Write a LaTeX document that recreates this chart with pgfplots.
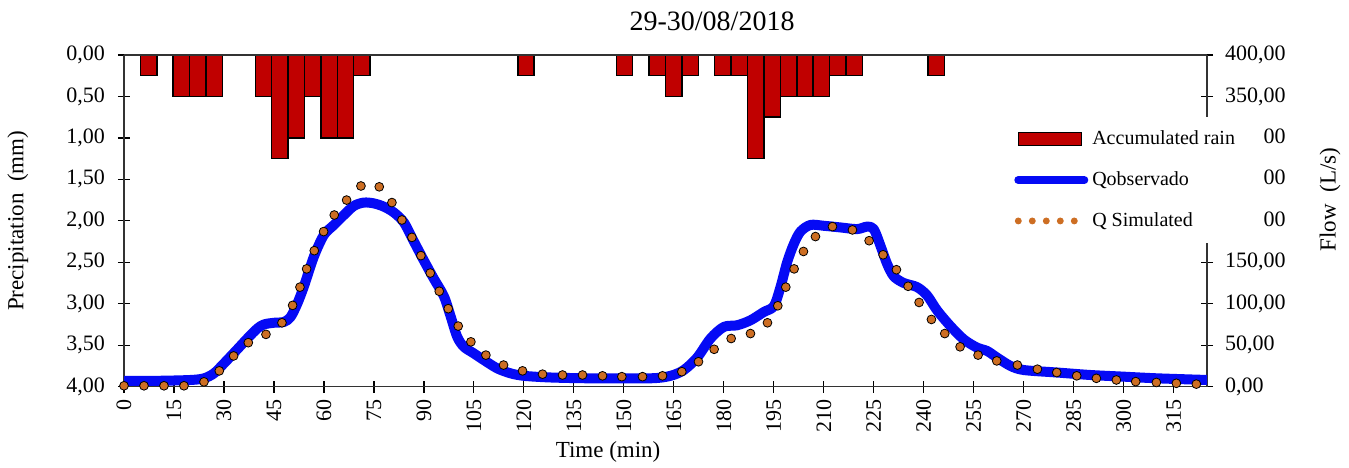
\documentclass[border=0pt]{standalone}
\usepackage{pgfplots}
\pgfplotsset{compat=1.18}
\usepackage{fontspec}
\setmainfont{Liberation Serif}

\definecolor{rainred}{RGB}{192,0,0}
\definecolor{qobs}{RGB}{5,10,245}
\definecolor{qsim}{RGB}{205,110,35}

% rain per 5-min interval (centre of interval, mm)
\pgfplotstableread{
t   p
7.5   0.25
17.5  0.5
22.5  0.5
27.5  0.5
42.5  0.5
47.5  1.25
52.5  1.0
57.5  0.5
62.5  1.0
67.5  1.0
72.5  0.25
122.5 0.25
152.5 0.25
162.5 0.25
167.5 0.5
172.5 0.25
182.5 0.25
187.5 0.25
192.5 1.25
197.5 0.75
202.5 0.5
207.5 0.5
212.5 0.5
217.5 0.25
222.5 0.25
247.5 0.25
}\rain

\pgfplotstableread{
t   q
0   7
10  7
20  8
24  10
27  16
30  28
34  45
37  58
40  70
42  75
45  77
48  78
50  84
52  100
54  121
57  157
60  183
63  195
66  207
69  218
72  222
75  221
78  217
81  210
84  198
87  175
90  152
93  130
96  109
98  85
100 60
102 48
105 40
108 32
112 22
116 16
120 13
128 11
140 10
158 10
164 13
168 20
172 35
176 58
180 72
184 74
188 80
192 90
195 97
197 120
199 150
201 172
203 187
206 195
210 194
215 192
220 190
223 193
225 190
227 170
229 148
231 133
234 125
238 120
241 110
244 92
248 73
252 57
256 47
259 43
262 35
266 25
270 20
280 17
290 14
300 12
310 10
325 8
}\qobs

\pgfplotstableread{
t   q
0     1
6     1
12    1
18    1
24    5.7
28.6  19
32.9  37
37.3  53
42.6  63
47.4  77
50.6  98
52.8  120
54.8  142
57.1  164
59.9  187
63.1  207
66.8  225
71.1  242
76.6  241
80.4  222
83.4  201
86.4  180
89.1  158
91.9  137
94.6  115
97.3  94
100.3 73
104.1 54
108.6 38
113.9 26
119.6 19
125.6 15
131.6 14
137.6 14
143.6 13
149.4 12
155.6 12
161.6 13
167.4 18
172.4 30
177.1 45
182.2 58
188   64
193.1 77
196.2 97.5
198.6 120
201.1 142
203.9 163
207.5 181
212.6 193
218.6 189
223.6 176
227.8 159
231.8 141
235.3 121
238.6 101.5
242.3 81
246.3 64
250.9 48
256.3 38
261.9 31
268.1 26
274.1 21
279.9 17
285.9 13
291.8 10
297.8 8
303.6 6
309.8 5
315.8 4
321.8 3
}\qsim

\pgfplotsset{
  twinbase/.style={
    scale only axis, width=541.5pt, height=165.8pt,
    at={(62pt,40.2pt)}, anchor=south west,
    axis line style={black!80, line width=0.75pt},
    tick style={black, line width=0.6pt},
    tick align=center, major tick length=6pt,
    /pgf/number format/assume math mode=true,
    ticklabel style={font=\fontsize{11}{13}\selectfont},
    label style={font=\fontsize{11.5}{14}\selectfont},
    yticklabel style={/pgf/number format/fixed, /pgf/number format/fixed zerofill,
      /pgf/number format/precision=2, /pgf/number format/use comma},
  }
}

\begin{document}
\begin{tikzpicture}
\useasboundingbox (0,0) rectangle (674.5pt,233.5pt);

% precipitation, hanging from the top
\begin{axis}[twinbase,
  xmin=0, xmax=330, ymin=0, ymax=4, y dir=reverse,
  axis x line=none, axis y line*=left,
  ytick={0,0.5,...,4},
  yticklabel style={xshift=-3pt},
  ylabel={Precipitation\ \ (mm)},
  ylabel style={at={(axis description cs:-0.098,0.5)}, anchor=center},
  ybar, bar width=5, bar shift=0pt,
]
\addplot[fill=rainred, draw=black, line width=0.75pt] table[x=t, y=p] {\rain};
\end{axis}

% flow
\begin{axis}[twinbase,
  xmin=0, xmax=325, ymin=0, ymax=400,
  axis y line*=right,
  xtick={0,15,...,315}, xtick pos=left,
  xticklabel style={rotate=90, anchor=east},
  ytick={0,50,...,400},
  yticklabel style={xshift=2.5pt},
  xlabel={Time (min)},
  xlabel style={at={(axis description cs:0.447,-0.197)}, anchor=center},
  ylabel={Flow\ \ (L/s)},
  ylabel style={at={(axis description cs:1.1136,0.564)}, anchor=center},
  title={29-30/08/2018},
  every axis title shift=0pt,
  title style={at={(axis description cs:0.543,1.102)}, anchor=center, font=\fontsize{14}{16}\selectfont},
  legend cell align=left,
  legend style={at={(axis description cs:0.818,0.815)}, anchor=north west,
    fill=white, draw=none, font=\fontsize{10}{12}\selectfont,
    row sep=8pt, inner xsep=2pt, inner ysep=5pt},
]
\addlegendimage{legend image code/.code={\draw[fill=rainred, draw=black, line width=0.75pt] (0pt,-3.25pt) rectangle (31.5pt,3.25pt);}}
\addlegendentry{Accumulated rain\hspace*{10pt}}

\addplot[qobs, line width=5pt, smooth, line cap=round, line join=round,
  legend image code/.code={\draw[qobs, line width=4pt, line cap=round] (0pt,0pt) -- (33pt,0pt);}]
  table[x=t, y=q] {\qobs};
\addlegendentry{Qobservado}

\addplot[only marks, mark=*, mark size=2.2pt, mark options={draw=none, fill=qsim},
  legend image code/.code={\foreach \i in {0,7,14,21,28} {\fill[qsim] (\i pt,0pt) circle (1.5pt);}}]
  table[x=t, y=q] {\qsim};
\addlegendentry{Q Simulated}
\end{axis}
\end{tikzpicture}
\end{document}
